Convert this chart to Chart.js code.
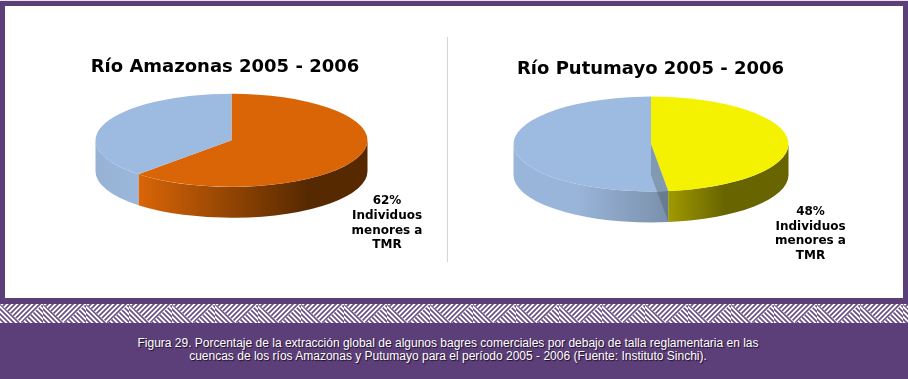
<!DOCTYPE html>
<html lang="es">
<head>
<meta charset="utf-8">
<title>Figura 29</title>
<script src="https://cdn.jsdelivr.net/npm/chart.js@4"></script>
<style>
  html, body { margin: 0; padding: 0; }
  body { width: 908px; height: 379px; position: relative; overflow: hidden; background: #5c3f78; }
  .panel { position: absolute; left: 5px; top: 6px; width: 898px; height: 292px; background: #fff; }
  .topline { position: absolute; left: 0; top: 0; width: 908px; height: 1px; background: #e9e4ef; }
  .divider { position: absolute; left: 447px; top: 37px; width: 1px; height: 225px; background: #d4d4d4; }
  .weave { position: absolute; left: 0; top: 304px; width: 908px; height: 19px; background-color: #fff; }
  .caption { position: absolute; left: 0; top: 337px; width: 896px; text-align: center;
    font: 12px/13px "Liberation Sans", Arial, sans-serif; color: #fff; text-shadow: 1px 1px 1px #1d0f2c; }
  canvas { position: absolute; }
  #amazonas { left: 5px; top: 6px; }
  #putumayo { left: 455px; top: 6px; }
</style>
</head>
<body>
<div class="topline"></div>
<div class="panel"></div>
<div class="divider"></div>
<canvas id="amazonas" width="440" height="292"></canvas>
<canvas id="putumayo" width="391" height="292"></canvas>
<div class="weave" id="weave"></div>
<div class="caption">Figura 29. Porcentaje de la extracción global de algunos bagres comerciales por debajo de talla reglamentaria en las<br>cuencas de los ríos Amazonas y Putumayo para el período 2005 - 2006 (Fuente: Instituto Sinchi).</div>

<script>
// datos
const categories = ['Individuos menores a TMR', 'Otros'];
const amazonasValues = [62, 38];
const putumayoValues = [48, 52];
const calloutLines = ['Individuos', 'menores a', 'TMR'];

const BLUE = '#9dbae0';
const ORANGE = '#da6507';
const YELLOW = '#f4f200';

// fake 3D: squash the pie with ctx.scale, side wall drawn from the arc angles
const tiltPlugin = {
  id: 'tilt',
  beforeDatasetsDraw(chart, args, opts) {
    const ctx = chart.ctx;
    const arcs = chart.getDatasetMeta(0).data;
    arcs.forEach((arc, i) => {
      const start = Math.max(arc.startAngle, 0);
      const end = Math.min(arc.endAngle, Math.PI);
      if (end <= start) return;
      const cx = arc.x + opts.dx;
      const rx = arc.outerRadius;
      const ry = rx * opts.squash;
      const grad = ctx.createLinearGradient(cx + rx * Math.cos(end), 0, cx + rx * Math.cos(start), 0);
      opts.walls[i].forEach(s => grad.addColorStop(s[0], s[1]));
      ctx.beginPath();
      ctx.ellipse(cx, arc.y, rx, ry, 0, start, end);
      ctx.ellipse(cx, arc.y + opts.depth, rx, ry, 0, end, start, true);
      ctx.closePath();
      ctx.fillStyle = grad;
      ctx.fill();
    });
  },
  beforeDatasetDraw(chart, args, opts) {
    const ctx = chart.ctx;
    const arc = chart.getDatasetMeta(0).data[0];
    ctx.save();
    ctx.translate(arc.x + opts.dx, arc.y);
    ctx.scale(1, opts.squash);
    ctx.translate(-arc.x, -arc.y);
  },
  afterDatasetDraw(chart) {
    chart.ctx.restore();
  },
  afterDraw(chart, args, opts) {
    const ctx = chart.ctx;
    const arc = chart.getDatasetMeta(0).data[0];
    const cx = arc.x + opts.dx;
    if (opts.cutFill) {
      // cara interior de la tajada, se ve a traves del azul
      const ex = cx + arc.outerRadius * Math.cos(arc.endAngle);
      const ey = arc.y + arc.outerRadius * opts.squash * Math.sin(arc.endAngle);
      ctx.beginPath();
      ctx.moveTo(cx, arc.y);
      ctx.lineTo(ex, ey);
      ctx.lineTo(ex, ey + opts.depth);
      ctx.lineTo(cx, arc.y + opts.depth);
      ctx.closePath();
      ctx.fillStyle = opts.cutFill;
      ctx.fill();
    }
    // callout
    const lines = [chart.data.datasets[0].data[0] + '%'].concat(calloutLines);
    ctx.fillStyle = '#000';
    ctx.font = 'bold 12px "DejaVu Sans", Verdana, sans-serif';
    ctx.textAlign = 'center';
    ctx.textBaseline = 'middle';
    lines.forEach((t, i) => ctx.fillText(t, cx + opts.labelX, arc.y + opts.labelY + i * 14.6));
  }
};

function makePie(id, titleText, values, colors, radius, titleTop, padBottom, tilt) {
  return new Chart(document.getElementById(id), {
    type: 'pie',
    data: {
      labels: categories,
      datasets: [{
        data: values,
        backgroundColor: colors,
        borderWidth: 0,
        radius: radius
      }]
    },
    options: {
      responsive: false,
      animation: false,
      layout: { padding: { bottom: padBottom } },
      plugins: {
        legend: { display: false },
        tooltip: { enabled: false },
        title: {
          display: true,
          text: titleText,
          color: '#000',
          font: { family: '"DejaVu Sans", Verdana, sans-serif', size: 18, weight: 'bold' },
          padding: { top: titleTop, bottom: 10 }
        },
        tilt: tilt
      }
    },
    plugins: [tiltPlugin]
  });
}

makePie('amazonas', 'Río Amazonas 2005 - 2006', amazonasValues, [ORANGE, BLUE], 136, 51, 106, {
  dx: 6.5, squash: 0.342, depth: 31, labelX: 155.5, labelY: 61,
  walls: [
    [[0, '#d96507'], [0.74, '#562900'], [1, '#562900']],
    [[0, '#97b2d4'], [1, '#9bb7db']]
  ]
});

makePie('putumayo', 'Río Putumayo 2005 - 2006', putumayoValues, [YELLOW, BLUE], 137.5, 53, 100.5, {
  dx: 0.5, squash: 0.345, depth: 31, labelX: 159.5, labelY: 68,
  cutFill: 'rgba(60, 70, 60, 0.28)',
  walls: [
    [[0, '#a09a00'], [0.47, '#686400'], [1, '#686400']],
    [[0, '#9ab5da'], [0.4, '#9ab5da'], [1, '#7a90ac']]
  ]
});

// franja tejida
const weaveSvg = `<svg xmlns="http://www.w3.org/2000/svg" width="43" height="19">
<defs>
<pattern id="a" width="5" height="5" patternUnits="userSpaceOnUse"><path d="M-1,1L1,-1M0,5L5,0M4,6L6,4" stroke="#6a4f86" stroke-width="1.7"/></pattern>
<pattern id="b" width="5" height="5" patternUnits="userSpaceOnUse"><path d="M-1,4L1,6M0,0L5,5M4,-1L6,1" stroke="#6a4f86" stroke-width="1.7"/></pattern>
</defs>
<rect width="43" height="19" fill="#fff"/>
<polygon points="0,0 43,0 21.5,19" fill="url(#a)"/>
<polygon points="0,0 21.5,19 0,19" fill="url(#b)"/>
<polygon points="43,0 43,19 21.5,19" fill="url(#b)"/>
</svg>`;
document.getElementById('weave').style.backgroundImage = 'url("data:image/svg+xml,' + encodeURIComponent(weaveSvg) + '")';
</script>
</body>
</html>
